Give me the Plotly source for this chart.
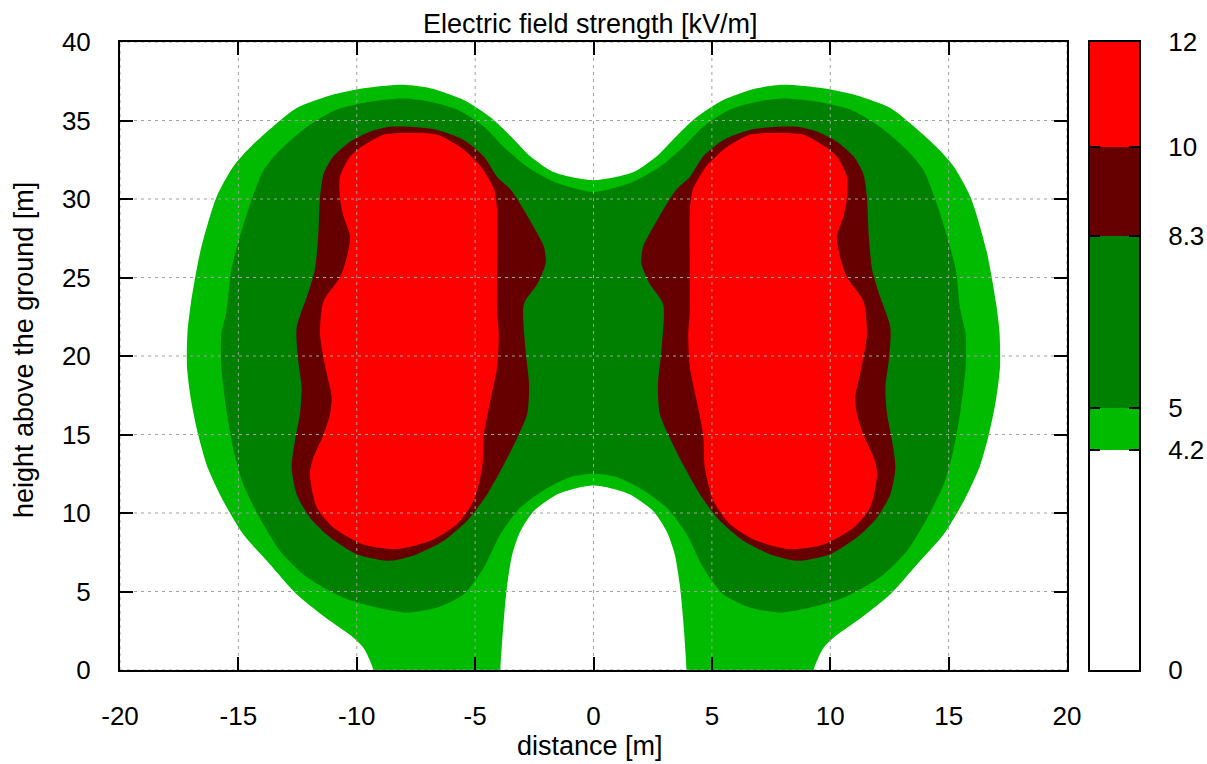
import plotly.graph_objects as go

# ---- field-strength levels and colours (kV/m) ----
LEVELS = [0, 4.2, 5, 8.3, 10, 12]
LEVEL_LABELS = ["0", "4.2", "5", "8.3", "10", "12"]
BAND_COLORS = ["#ffffff", "#00bb00", "#008000", "#660000", "#ff0000"]

X_TICKS = [-20, -15, -10, -5, 0, 5, 10, 15, 20]
Y_TICKS = [0, 5, 10, 15, 20, 25, 30, 35, 40]
X_RANGE = [-20, 20]
Y_RANGE = [0, 40]

# ---- contour outlines (right half; the field is symmetric about x = 0) ----
# 4.2 kV/m outline: from the top centre, clockwise to the ground, then the arch back to the centre
ISO_42_X = [0, 1.67, 2.66, 3.5, 4.35, 5.48, 6.9, 8.02, 9.7, 11.13, 12.54, 13.4, 14.5, 15.2,
            15.93, 16.6, 17.0, 17.15, 17.17, 17.0, 16.7, 16.3, 15.65, 14.8, 13.67, 12.54,
            11.13, 10.14, 9.72, 9.3, 3.93, 3.78, 3.64, 3.43, 3.08, 2.51, 1.53, 0.68, 0]
ISO_42_Y = [31.2, 31.7, 32.7, 34.0, 35.2, 36.3, 37.05, 37.27, 37.05, 36.6, 35.8, 34.8, 33.3, 32.1,
            30.1, 26.7, 23.4, 21.5, 19.3, 17.2, 15.0, 12.9, 10.8, 8.66, 6.74, 4.83,
            3.13, 2.06, 1.42, 0.0, 0.0, 3.34, 5.47, 7.38, 8.87, 10.15, 11.2, 11.6, 11.75]

# 5 kV/m outline: top centre, clockwise round the right lobe, back to the bottom centre
ISO_5_X = [0, 1.67, 2.8, 3.78, 4.63, 5.76, 6.9, 8.02, 9.43, 10.85, 12.1, 13.25, 13.95, 14.5,
           14.94, 15.3, 15.5, 15.72, 15.72, 15.5, 15.2, 14.8, 14.1, 13.25, 12.1, 10.56, 9.15,
           7.88, 6.6, 5.48, 4.63, 3.93, 3.08, 1.95, 0.96, 0]
ISO_5_Y = [30.45, 31.1, 32.05, 33.3, 34.6, 35.7, 36.2, 36.4, 36.2, 35.7, 34.6, 33.1, 31.8, 29.7,
           27.6, 25.5, 22.9, 21.4, 19.3, 16.5, 14.0, 11.85, 9.7, 7.6, 5.9, 4.6, 3.98,
           3.66, 3.98, 4.83, 6.53, 8.66, 10.36, 11.6, 12.3, 12.5]

# 8.3 kV/m outline around the right conductor bundle
ISO_83_X = [7.74, 8.59, 9.43, 10.28, 10.99, 11.4, 11.55, 11.63, 11.77, 12.1, 12.54, 12.47, 12.33,
            12.4, 12.61, 12.75, 12.54, 11.98, 11.13, 10.0, 8.59, 7.46, 6.33, 5.34, 4.49, 3.78,
            3.22, 2.8, 2.72, 2.87, 2.94, 2.37, 2.02, 2.09, 2.37, 2.94, 3.5, 4.07, 4.63, 5.48, 6.6]
ISO_83_Y = [34.6, 34.6, 34.3, 33.65, 32.7, 31.6, 30.1, 27.6, 25.5, 23.8, 21.8, 19.7, 18.0,
            16.3, 14.6, 12.9, 11.2, 9.72, 8.45, 7.38, 6.96, 7.38, 8.23, 9.5, 11.2, 13.1,
            14.8, 16.3, 18.2, 20.4, 23.3, 24.6, 25.9, 26.95, 27.8, 29.3, 30.6, 31.4, 32.7, 33.76, 34.4]

# 10 kV/m outline around the right conductor bundle
ISO_10_X = [7.74, 8.87, 9.72, 10.28, 10.71, 10.71, 10.56, 10.28, 10.42, 10.71, 11.4, 11.55, 11.27,
            11.06, 11.13, 11.4, 11.84, 11.98, 11.69, 10.99, 9.72, 8.3, 6.9, 5.76, 5.06, 4.7,
            4.63, 4.35, 4.07, 4.0, 4.07, 4.07, 4.07, 4.2, 4.77, 5.62, 6.6]
ISO_10_Y = [34.2, 34.1, 33.4, 32.7, 31.4, 30.1, 28.9, 27.6, 26.3, 25.0, 23.5, 21.4, 18.9,
            17.4, 16.3, 15.0, 13.5, 12.5, 10.36, 9.08, 8.0, 7.7, 8.23, 9.3, 10.8, 12.9,
            15.0, 17.2, 19.3, 21.4, 22.9, 25.5, 29.3, 30.6, 32.1, 33.3, 34.1]

FONT = "Liberation Sans, Arial, sans-serif"
W, H = 1207, 764
GROUND_DEPTH = 2.0   # outlines touching the ground are closed below it (clipped away)


def px_x(p):
    return p / W


def px_y(p):
    return 1 - p / H


def extend_ground(xs, ys):
    """Where an outline runs along the ground, route it below y = 0 so the
    smoothed edge meets the ground without rounding off."""
    out_x, out_y = [], []
    n = len(xs)
    for i, (x, y) in enumerate(zip(xs, ys)):
        if y == Y_RANGE[0]:
            prev_ground = i > 0 and ys[i - 1] == Y_RANGE[0]
            if prev_ground:
                out_x += [x, x]
                out_y += [Y_RANGE[0] - GROUND_DEPTH, y]
            else:
                out_x += [x, x]
                out_y += [y, Y_RANGE[0] - GROUND_DEPTH]
        else:
            out_x.append(x)
            out_y.append(y)
    return out_x, out_y


def symmetric_outline(xs, ys):
    """Close a right-half outline by mirroring it onto the left half."""
    xs, ys = extend_ground(xs, ys)
    left_x = [-x for x in reversed(xs[1:-1])]
    left_y = list(reversed(ys[1:-1]))
    return xs + left_x + [xs[0]], ys + left_y + [ys[0]]


def mirrored(xs, ys):
    """Closed lobe and its mirror image across x = 0."""
    right = (xs + [xs[0]], ys + [ys[0]])
    left = ([-x for x in xs] + [-xs[0]], ys + [ys[0]])
    return [right, left]


fig = go.Figure()

bands = [
    ([symmetric_outline(ISO_42_X, ISO_42_Y)], BAND_COLORS[1]),
    ([symmetric_outline(ISO_5_X, ISO_5_Y)], BAND_COLORS[2]),
    (mirrored(ISO_83_X, ISO_83_Y), BAND_COLORS[3]),
    (mirrored(ISO_10_X, ISO_10_Y), BAND_COLORS[4]),
]
for shapes, col in bands:
    for bx, by in shapes:
        fig.add_trace(go.Scatter(x=bx, y=by, mode="lines", fill="toself", fillcolor=col,
                                 line=dict(width=0, color=col, shape="spline", smoothing=0.7),
                                 hoverinfo="skip", showlegend=False))

# dotted grid drawn over the colour map
gx, gy = [], []
for t in X_TICKS:
    gx += [t, t, None]
    gy += [Y_RANGE[0], Y_RANGE[1], None]
for t in Y_TICKS:
    gx += [X_RANGE[0], X_RANGE[1], None]
    gy += [t, t, None]
fig.add_trace(go.Scatter(x=gx, y=gy, mode="lines",
                         line=dict(color="#a0a0a0", width=1, dash="3px,4px"),
                         hoverinfo="skip", showlegend=False))

# colour box: one stacked segment per band
for lo, hi, col in zip(LEVELS[:-1], LEVELS[1:], BAND_COLORS):
    fig.add_trace(go.Bar(x=[0.5], y=[hi - lo], base=[lo], width=1,
                         marker=dict(color=col, line=dict(width=0)),
                         xaxis="x2", yaxis="y2", hoverinfo="skip", showlegend=False))

plot_left, plot_right, plot_top, plot_bottom = 120, 1067, 42, 670
cb_left, cb_right = 1090, 1139

axis_common = dict(showline=True, linecolor="black", linewidth=2, mirror="ticks",
                   ticks="inside", tickwidth=1.5, tickcolor="black",
                   showgrid=False, zeroline=False, layer="above traces", automargin=False,
                   tickfont=dict(family=FONT, size=26, color="black"))

fig.update_layout(
    width=W, height=H,
    margin=dict(l=0, r=0, t=0, b=0),
    template="none",
    paper_bgcolor="white", plot_bgcolor="white",
    barmode="overlay", bargap=0,
    showlegend=False,
    xaxis=dict(domain=[px_x(plot_left), px_x(plot_right)], range=X_RANGE,
               tickvals=X_TICKS, ticktext=[str(t) for t in X_TICKS],
               ticklen=13, ticklabelstandoff=22, **axis_common),
    yaxis=dict(domain=[px_y(plot_bottom), px_y(plot_top)], range=Y_RANGE,
               tickvals=Y_TICKS, ticktext=[str(t) for t in Y_TICKS],
               ticklen=13, ticklabelstandoff=22, **axis_common),
    xaxis2=dict(domain=[px_x(cb_left), px_x(cb_right)], range=[0, 1], anchor="y2",
                showline=True, linecolor="black", linewidth=2, mirror=True,
                showticklabels=False, ticks="", showgrid=False, zeroline=False,
                layer="above traces", automargin=False),
    yaxis2=dict(domain=[px_y(plot_bottom), px_y(plot_top)], range=[LEVELS[0], LEVELS[-1]],
                anchor="x2", side="right", tickvals=LEVELS, ticktext=LEVEL_LABELS,
                ticklen=10, ticklabelstandoff=22, **axis_common),
    annotations=[
        dict(text="Electric field strength [kV/m]", x=px_x(590), y=px_y(24), xref="paper",
             yref="paper", showarrow=False, xanchor="center", yanchor="middle",
             font=dict(family=FONT, size=27, color="black")),
        dict(text="distance [m]", x=px_x(590), y=px_y(746), xref="paper", yref="paper",
             showarrow=False, xanchor="center", yanchor="middle",
             font=dict(family=FONT, size=27, color="black")),
        dict(text="height above the ground [m]", x=px_x(24), y=px_y(350), xref="paper",
             yref="paper", showarrow=False, xanchor="center", yanchor="middle", textangle=-90,
             font=dict(family=FONT, size=27, color="black")),
    ],
)

fig.write_html("out.html")
